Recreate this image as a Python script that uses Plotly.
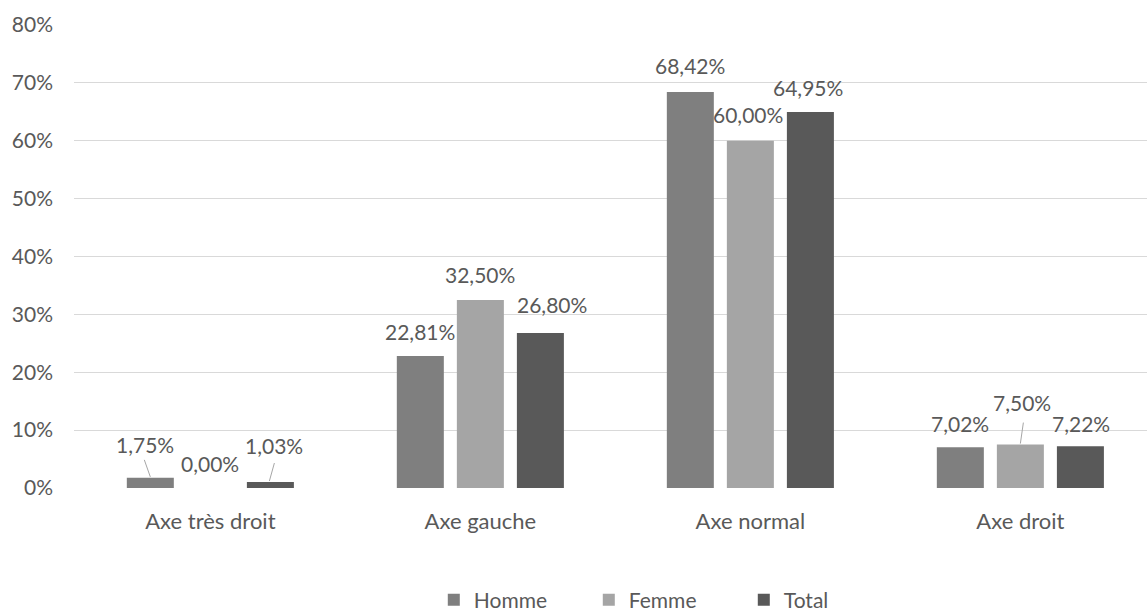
import plotly.graph_objects as go

categories = ["Axe très droit", "Axe gauche", "Axe normal", "Axe droit"]
series_names = ["Homme", "Femme", "Total"]
homme = [1.75, 22.81, 68.42, 7.02]
femme = [0.00, 32.50, 60.00, 7.50]
total = [1.03, 26.80, 64.95, 7.22]
y_ticks = [0, 10, 20, 30, 40, 50, 60, 70, 80]
y_tick_labels = ["0%", "10%", "20%", "30%", "40%", "50%", "60%", "70%", "80%"]

colors = ["#7f7f7f", "#a5a5a5", "#595959"]
values = [homme, femme, total]

FONT = "Lato"
TEXT_COLOR = "#595959"
BARGAP = 0.333
BARGROUPGAP = 0.217

fig = go.Figure()
xs = list(range(len(categories)))
for name, vals, col in zip(series_names, values, colors):
    fig.add_trace(go.Bar(
        x=xs, y=vals, name=name, marker=dict(color=col, line=dict(width=0)),
        hoverinfo="skip",
    ))

# label placement per series/category: (dx px, dy px above bar top to label centre)
label_shift = [
    [(-5, 33), (0, 24), (0, 27), (0, 24)],
    [(0, 25), (0, 25), (-2, 26), (2, 42)],
    [(4, 37), (12, 28), (-2, 25), (1, 23)],
]
# leader lines for crowded labels: (series, category, x0, y0, x1, y1) in px
leaders = [
    (0, 0, 0, 1, -6, 18),
    (2, 0, -1, 1, 4, 19),
    (1, 3, 0, 1, 3, 22),
]

slot = (1 - BARGAP) / len(series_names)
def bar_x(j, k):
    return k + (j - (len(series_names) - 1) / 2) * slot

annotations = []
for j, vals in enumerate(values):
    for k, v in enumerate(vals):
        dx, dy = label_shift[j][k]
        annotations.append(dict(
            x=bar_x(j, k), y=v, xref="x", yref="y",
            text=f"{v:.2f}%".replace(".", ","), showarrow=False,
            xanchor="center", yanchor="middle", xshift=dx, yshift=dy,
            font=dict(family=FONT, size=21, color=TEXT_COLOR),
        ))

shapes = []
for j, k, x0, y0, x1, y1 in leaders:
    shapes.append(dict(
        type="line", xref="x", yref="y",
        xsizemode="pixel", ysizemode="pixel",
        xanchor=bar_x(j, k), yanchor=values[j][k],
        x0=x0, y0=y0, x1=x1, y1=y1,
        line=dict(color="#a6a6a6", width=1),
    ))

fig.update_layout(
    width=1147, height=615,
    margin=dict(l=74, r=0, t=25, b=127, autoexpand=False),
    paper_bgcolor="white", plot_bgcolor="white",
    barmode="group", bargap=BARGAP, bargroupgap=BARGROUPGAP,
    font=dict(family=FONT, size=21, color=TEXT_COLOR),
    annotations=annotations, shapes=shapes,
    showlegend=True,
    legend=dict(
        orientation="h", x=0.552, y=-0.242, xanchor="center", yanchor="middle",
        font=dict(family=FONT, size=21, color=TEXT_COLOR),
        entrywidth=110, itemwidth=30, borderwidth=0,
    ),
    xaxis=dict(
        range=[-0.505, 3.469], tickmode="array", tickvals=xs, ticktext=categories,
        showgrid=False, zeroline=False, showline=False, ticks="",
        ticklabelstandoff=18,
        tickfont=dict(family=FONT, size=22, color=TEXT_COLOR),
    ),
    yaxis=dict(
        range=[0, 80], tickmode="array", tickvals=y_ticks, ticktext=y_tick_labels,
        showgrid=True, gridcolor="#d9d9d9", gridwidth=1.3,
        zeroline=False, showline=False, ticks="",
        ticklabelstandoff=20,
        tickfont=dict(family=FONT, size=21, color=TEXT_COLOR),
    ),
)

fig.write_html("out.html")
